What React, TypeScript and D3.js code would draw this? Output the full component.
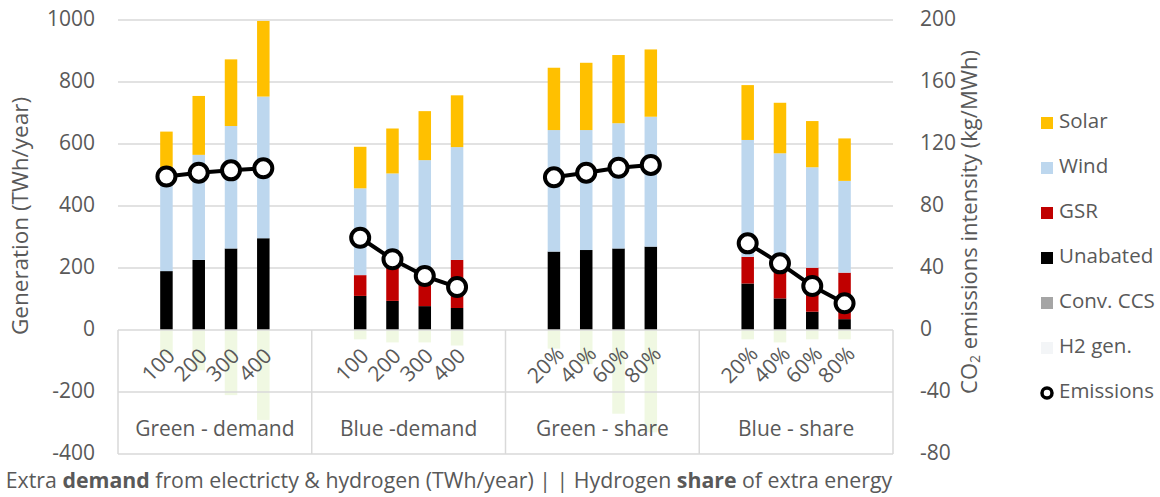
import React from "react";
import * as d3 from "d3";

const groups = ["Green - demand", "Blue -demand", "Green - share", "Blue - share"];
const tickLabels = ["100", "200", "300", "400", "100", "200", "300", "400", "20%", "40%", "60%", "80%", "20%", "40%", "60%", "80%"];

const unabated = [190, 226, 263, 296, 110, 94, 77, 71, 253, 258, 263, 269, 150, 102, 59, 35];
const gsr = [0, 0, 0, 0, 67, 106, 115, 155, 0, 0, 0, 0, 86, 98, 142, 150];
const convCCS = [0, 0, 0, 0, 0, 0, 0, 0, 0, 0, 0, 0, 0, 0, 0, 0];
const wind = [320, 339, 395, 457, 280, 305, 356, 364, 392, 387, 404, 419, 377, 370, 324, 296];
const solar = [130, 190, 215, 244, 134, 145, 158, 167, 201, 217, 220, 217, 177, 163, 149, 137];
const h2gen = [-80, -130, -210, -290, -30, -40, -40, -50, -60, -110, -270, -330, -30, -40, -30, -30];
const emissions = [99, 101.5, 103, 104.3, 59.5, 45.6, 34.8, 27.7, 98.5, 101.5, 104.7, 106.5, 55.9, 43, 28.4, 17.2];

const leftTicks = [-400, -200, 0, 200, 400, 600, 800, 1000];
const rightTicks = [-80, -40, 0, 40, 80, 120, 160, 200];

const seriesDefs = [
  { key: "Solar", values: solar, color: "#FFC000" },
  { key: "Wind", values: wind, color: "#BDD7EE" },
  { key: "GSR", values: gsr, color: "#C00000" },
  { key: "Unabated", values: unabated, color: "#000000" },
  { key: "Conv. CCS", values: convCCS, color: "#A5A5A5" },
  { key: "H2 gen.", values: h2gen, color: "#EAF6D6" },
];
const stackOrder = ["Conv. CCS", "Unabated", "GSR", "Wind", "Solar", "H2 gen."];

const FONT = "'Open Sans', sans-serif";
const TXT = "#595959";
const FS = 21;

export default function App() {
  const W = 1160, H = 497;
  const x0 = 118, x1 = 893, yTop = 20, yBot = 454;
  const slots = d3.range(24);
  const x = d3.scaleBand<number>().domain(slots).range([x0, x1]).padding(0);
  const yL = d3.scaleLinear().domain([-400, 1000]).range([yBot, yTop]);
  const yR = d3.scaleLinear().domain([-80, 200]).range([yBot, yTop]);
  const slotOf = (i: number) => Math.floor(i / 4) * 6 + (i % 4) + 1;
  const bw = 12.5;

  const rows = d3.range(16).map((i) => {
    const r: any = { i };
    seriesDefs.forEach((s) => (r[s.key] = s.values[i]));
    return r;
  });
  const stack = d3.stack<any>().keys(stackOrder).offset(d3.stackOffsetDiverging);
  const stacked = stack(rows);
  const colorOf = (k: string) => seriesDefs.find((s) => s.key === k)!.color;

  const cx = (i: number) => (x(slotOf(i)) as number) + x.bandwidth() / 2;
  const line = d3.line<number>().x((d) => cx(d)).y((d) => yR(emissions[d]));

  const groupEdges = d3.range(5).map((g) => x(g * 6) ?? x1);
  groupEdges[4] = x1;

  return (
    <svg width={W} height={H} style={{ display: "block", position: "absolute", left: 0, top: 0 }} fontFamily={FONT}>
      <rect width={W} height={H} fill="#fff" />
      {leftTicks.filter((t) => t > 0).map((t) => (
        <line key={t} x1={x0} x2={x1} y1={yL(t)} y2={yL(t)} stroke="#D9D9D9" strokeWidth={1.5} />
      ))}
      {stacked.map((layer) => (
        <g key={layer.key} fill={colorOf(layer.key)} opacity={layer.key === "H2 gen." ? 0.7 : 1}>
          {layer.map((d, i) => {
            const a = yL(d[0]), b = yL(d[1]);
            const h = Math.abs(a - b);
            if (h < 0.01) return null;
            return <rect key={i} x={cx(i) - bw / 2} y={Math.min(a, b)} width={bw} height={h} />;
          })}
        </g>
      ))}
      {[0, -200, -400].map((t) => (
        <line key={t} x1={x0} x2={x1} y1={yL(t)} y2={yL(t)} stroke="#D9D9D9" strokeWidth={1.5} />
      ))}
      {groupEdges.map((ex, k) => (
        <line key={k} x1={ex} x2={ex} y1={yL(0)} y2={yL(-400)} stroke="#D9D9D9" strokeWidth={1.5} />
      ))}
      {tickLabels.map((t, i) => (
        <text key={i} transform={`translate(${cx(i) - 7},${366}) rotate(-45)`} textAnchor="middle" dominantBaseline="middle" fontSize={FS} fill={TXT}>
          {t}
        </text>
      ))}
      {groups.map((g, k) => (
        <text key={g} x={(groupEdges[k] + groupEdges[k + 1]) / 2} y={430} textAnchor="middle" dominantBaseline="middle" fontSize={FS} fill={TXT}>
          {g}
        </text>
      ))}
      {d3.range(4).map((g) => (
        <path key={g} d={line(d3.range(g * 4, g * 4 + 4)) || ""} fill="none" stroke="#000" strokeWidth={4} />
      ))}
      {emissions.map((e, i) => (
        <circle key={i} cx={cx(i)} cy={yR(e)} r={9} fill="#fff" stroke="#000" strokeWidth={4} />
      ))}
      {leftTicks.map((t) => (
        <text key={t} x={95} y={yL(t)} textAnchor="end" dominantBaseline="middle" fontSize={FS} fill={TXT}>
          {t}
        </text>
      ))}
      {rightTicks.map((t) => (
        <text key={t} x={920} y={yR(t)} textAnchor="start" dominantBaseline="middle" fontSize={FS} fill={TXT}>
          {t}
        </text>
      ))}
      <text transform={`translate(22,216) rotate(-90)`} textAnchor="middle" dominantBaseline="middle" fontSize={22.5} fill={TXT}>
        Generation (TWh/year)
      </text>
      <text transform={`translate(971,222) rotate(-90)`} textAnchor="middle" dominantBaseline="middle" fontSize={22} fill={TXT}>
        CO<tspan fontSize={14} dy={5}>2</tspan><tspan dy={-5}> emissions intensity (kg/MWh)</tspan>
      </text>
      <text x={449} y={482} textAnchor="middle" dominantBaseline="middle" fontSize={21.3} fill={TXT}>
        Extra <tspan fontWeight="bold">demand</tspan> from electricty &amp; hydrogen (TWh/year) | | Hydrogen <tspan fontWeight="bold">share</tspan> of extra energy
      </text>
      {[...seriesDefs.map((s) => s.key), "Emissions"].map((k, j) => {
        const ly = 123 + j * 45;
        return (
          <g key={k}>
            {k === "Emissions" ? (
              <circle cx={1047} cy={ly} r={5} fill="#fff" stroke="#000" strokeWidth={3.5} />
            ) : (
              <rect x={1041} y={ly - 6} width={12} height={12} fill={k === "H2 gen." ? "#F3F5F7" : colorOf(k)} />
            )}
            <text x={1059} y={ly} dominantBaseline="middle" fontSize={20.5} fill={TXT}>
              {k}
            </text>
          </g>
        );
      })}
    </svg>
  );
}
